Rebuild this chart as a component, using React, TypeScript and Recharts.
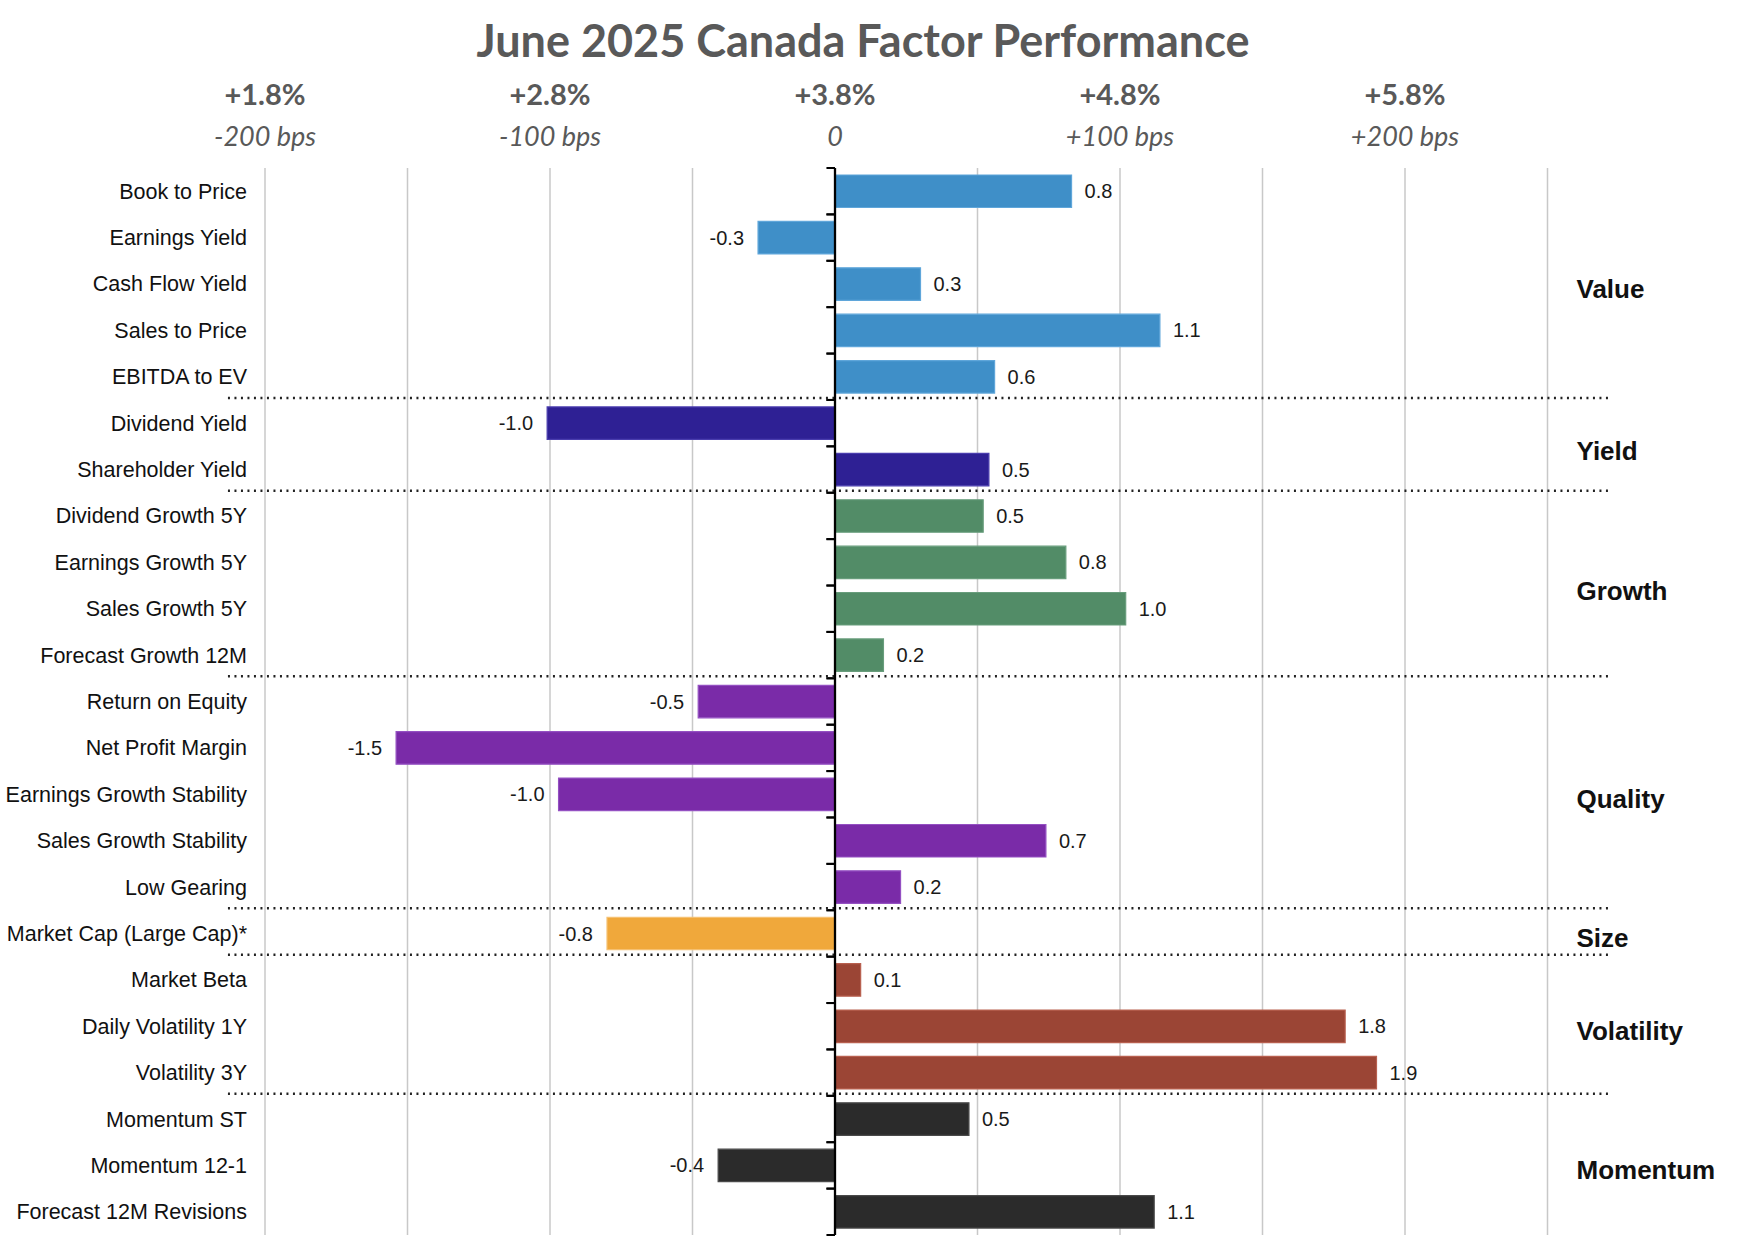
import React from 'react';
import { BarChart, Bar, XAxis, YAxis, CartesianGrid, ReferenceLine, ReferenceArea, Cell, LabelList } from 'recharts';

const categories = [
  'Book to Price', 'Earnings Yield', 'Cash Flow Yield', 'Sales to Price', 'EBITDA to EV',
  'Dividend Yield', 'Shareholder Yield',
  'Dividend Growth 5Y', 'Earnings Growth 5Y', 'Sales Growth 5Y', 'Forecast Growth 12M',
  'Return on Equity', 'Net Profit Margin', 'Earnings Growth Stability', 'Sales Growth Stability', 'Low Gearing',
  'Market Cap (Large Cap)*',
  'Market Beta', 'Daily Volatility 1Y', 'Volatility 3Y',
  'Momentum ST', 'Momentum 12-1', 'Forecast 12M Revisions',
];
const values = [
  0.83, -0.27, 0.3, 1.14, 0.56,
  -1.01, 0.54,
  0.52, 0.81, 1.02, 0.17,
  -0.48, -1.54, -0.97, 0.74, 0.23,
  -0.8,
  0.09, 1.79, 1.9,
  0.47, -0.41, 1.12,
];
const groupNames = ['Value', 'Yield', 'Growth', 'Quality', 'Size', 'Volatility', 'Momentum'];
const groupSizes = [5, 2, 4, 5, 1, 3, 3];
const groupColors = ['#3F8FC8', '#2E2094', '#528C67', '#7A2BA8', '#F0A83B', '#9B4535', '#2B2B2B'];
const groupStrokes = ['#5FA6DA', '#4A3DAE', '#689D7C', '#9450C2', '#F6C274', '#B8604F', '#4A4A4A'];
const gridTicks = [-2, -1.5, -1, -0.5, 0, 0.5, 1, 1.5, 2, 2.5];
const topTickValues = [-2, -1, 0, 1, 2];
const topTickPct = ['+1.8%', '+2.8%', '+3.8%', '+4.8%', '+5.8%'];
const topTickBps = ['-200 bps', '-100 bps', '0', '+100 bps', '+200 bps'];

// derived structures
const groupOfRow: number[] = [];
groupSizes.forEach((s, g) => { for (let i = 0; i < s; i++) groupOfRow.push(g); });
const data = categories.map((name, i) => ({ name, value: values[i], group: groupOfRow[i] }));
const groupStarts: number[] = [];
groupSizes.reduce((acc, s) => { groupStarts.push(acc); return acc + s; }, 0);
const groupEnds = groupStarts.map((st, g) => st + groupSizes[g] - 1);

const W = 1738;
const H = 1252;
const SANS = '"Liberation Sans", Arial, sans-serif';
const CAL = 'Lato, "Open Sans", sans-serif';

const CategoryTick = (props: any) => {
  const { x, y, payload } = props;
  return (
    <text x={x} y={y} dy={7.5} textAnchor="end" fontFamily={SANS} fontSize={21.5} fill="#111">
      {payload.value}
    </text>
  );
};

const TopTick = (props: any) => {
  const { x, y, payload } = props;
  const idx = topTickValues.indexOf(payload.value);
  if (idx < 0) return null;
  return (
    <g>
      <text x={x} y={y - 63} textAnchor="middle" fontFamily={CAL} fontWeight="bold" fontSize={29} fill="#595959">
        {topTickPct[idx]}
      </text>
      <text x={x} y={y - 22} textAnchor="middle" fontFamily={CAL} fontStyle="italic" fontSize={27} fill="#595959">
        {topTickBps[idx]}
      </text>
    </g>
  );
};

const ValueLabel = (props: any) => {
  const vb = props.viewBox || {};
  const x = props.x ?? vb.x;
  const y = props.y ?? vb.y;
  const w = props.width ?? vb.width;
  const h = props.height ?? vb.height;
  const v = Number(props.value);
  if (x == null || y == null) return null;
  const left = Math.min(x, x + w);
  const right = Math.max(x, x + w);
  const cy = y + h / 2 + 7;
  const txt = v.toFixed(1);
  return v >= 0 ? (
    <text x={right + 13} y={cy} textAnchor="start" fontFamily={SANS} fontSize={20} fill="#1a1a1a">{txt}</text>
  ) : (
    <text x={left - 14} y={cy} textAnchor="end" fontFamily={SANS} fontSize={20} fill="#1a1a1a">{txt}</text>
  );
};

// tick mark on the zero line at the top (and bottom) edge of a category band
const BandTickShape = (props: any) => {
  const { x, y, width, height } = props;
  return (
    <g>
      <line x1={x} y1={y} x2={x + width} y2={y} stroke="#000" strokeWidth={2} />
      <line x1={x} y1={y + height} x2={x + width} y2={y + height} stroke="#000" strokeWidth={2} />
    </g>
  );
};

// dotted separator at the top edge of the first band of a group
const SeparatorShape = (props: any) => {
  const { x, y, width } = props;
  return (
    <line x1={x} y1={y - 2} x2={x + width} y2={y - 2} stroke="#222" strokeWidth={2.5} strokeDasharray="2 4.5" />
  );
};

const makeGroupShape = (name: string) => (props: any) => {
  const { x, y, width, height } = props;
  return (
    <text x={x + width + 29} y={y + height / 2 + 14} textAnchor="start" fontFamily={SANS} fontWeight="bold" fontSize={26} fill="#111">
      {name}
    </text>
  );
};

export default function App() {
  return (
    <div style={{ position: 'absolute', left: 0, top: 0, width: W, height: H, background: '#fff' }}>
      <div
        style={{
          position: 'absolute', left: 463, top: 13, width: 800, height: 54, lineHeight: '54px',
          textAlign: 'center', fontFamily: CAL, fontWeight: 700, fontSize: 45, color: '#595959',
          whiteSpace: 'nowrap',
        }}
      >
        June 2025 Canada Factor Performance
      </div>
      <BarChart
        width={W}
        height={H}
        data={data}
        layout="vertical"
        margin={{ top: 108, right: 190.5, bottom: 17, left: 0 }}
        style={{ position: 'absolute', left: 0, top: 0 }}
      >
        <CartesianGrid horizontal={false} stroke="#c8c8c8" strokeWidth={1.5} />
        <XAxis
          type="number"
          domain={[-2, 2.5]}
          ticks={gridTicks}
          orientation="top"
          height={60}
          interval={0}
          tickSize={0}
          tickMargin={0}
          axisLine={false}
          tickLine={false}
          tick={<TopTick />}
          allowDataOverflow
        />
        <YAxis
          type="category"
          dataKey="name"
          width={265}
          interval={0}
          tickSize={0}
          tickMargin={18}
          axisLine={false}
          tickLine={false}
          tick={<CategoryTick />}
        />
        <Bar dataKey="value" barSize={32.5} isAnimationActive={false}>
          {data.map((d, i) => (
            <Cell key={i} fill={groupColors[d.group]} stroke={groupStrokes[d.group]} strokeWidth={1.2} />
          ))}
          <LabelList dataKey="value" content={<ValueLabel />} />
        </Bar>
        <ReferenceLine x={0} stroke="#000" strokeWidth={2.3} />
        {categories.map((c) => (
          <ReferenceArea
            key={'t' + c}
            x1={-0.03}
            x2={0}
            y1={c}
            y2={c}
            ifOverflow="visible"
            shape={<BandTickShape />}
          />
        ))}
        {groupStarts.slice(1).map((st) => (
          <ReferenceArea
            key={'s' + st}
            x1={-2.13}
            x2={2.72}
            y1={categories[st]}
            y2={categories[st]}
            ifOverflow="visible"
            shape={<SeparatorShape />}
          />
        ))}
        {groupNames.map((g, gi) => (
          <ReferenceArea
            key={'g' + g}
            x1={-2}
            x2={2.5}
            y1={categories[groupStarts[gi]]}
            y2={categories[groupEnds[gi]]}
            ifOverflow="visible"
            shape={makeGroupShape(g)}
          />
        ))}
      </BarChart>
    </div>
  );
}
